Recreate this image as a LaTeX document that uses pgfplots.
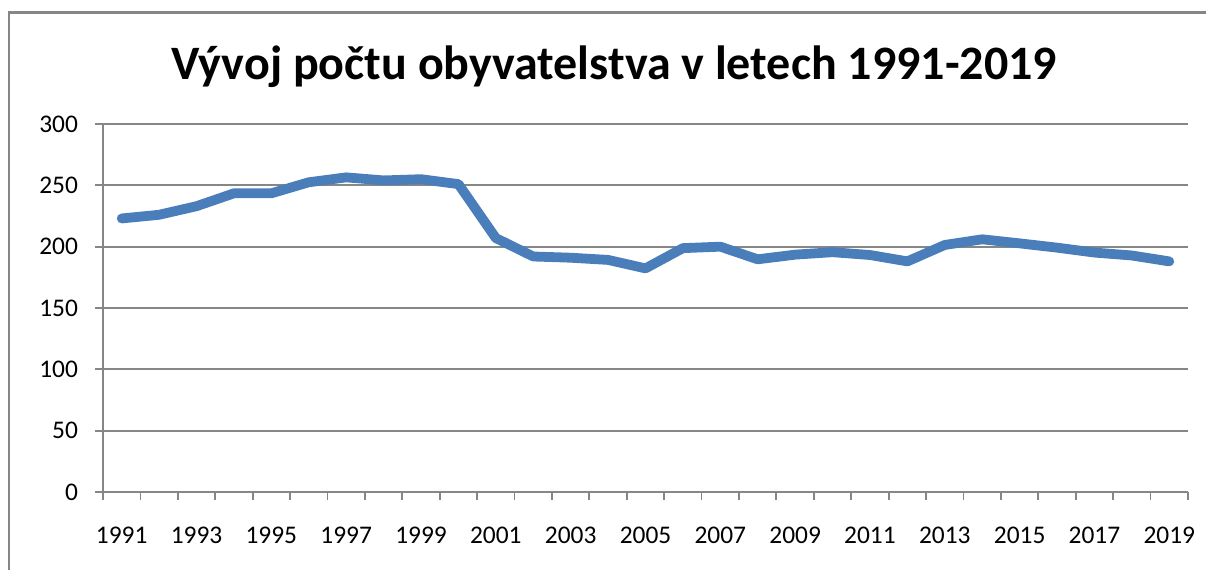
\documentclass[border=0pt]{standalone}
\usepackage{pgfplots}
\pgfplotsset{compat=1.18}
\usepackage{fontspec}
\setmainfont{Carlito}
\definecolor{excelblue}{HTML}{4A7EBB}
\definecolor{gridgray}{HTML}{868686}
\begin{document}
\begin{tikzpicture}
\useasboundingbox (0pt,0pt) rectangle (603pt,284.5pt);
\draw[gridgray,line width=1.3pt] (4.5pt,-20pt) -- (4.5pt,278.25pt) -- (650pt,278.25pt);
\node[font=\fontsize{24}{28}\selectfont\bfseries,anchor=base] at (307pt,244.5pt) {Vývoj počtu obyvatelstva v letech 1991-2019};
\begin{axis}[
  at={(51.5pt,38.5pt)}, anchor=south west,
  scale only axis, width=542.5pt, height=184pt,
  xmin=1990.5, xmax=2019.5, ymin=0, ymax=300,
  axis x line*=bottom, axis y line*=left,
  axis line style={gridgray,line width=0.9pt},
  xtick={1991,1993,...,2019},
  minor xtick={1990.5,1991.5,...,2019.5},
  ytick={0,50,...,300},
  minor ytick={0,50,...,300},
  tick align=outside,
  major tick length=0pt, minor tick length=4pt,
  tick style={gridgray,line width=0.9pt},
  ymajorgrids, major grid style={gridgray,line width=0.9pt},
  xticklabel style={/pgf/number format/1000 sep={}, yshift=-14pt},
  yticklabel style={xshift=-9pt},
  /pgf/number format/assume math mode=true,
  ticklabel style={font=\fontsize{12.7}{15}\selectfont},
  clip=false,
]
\addplot[excelblue, line width=4.9pt, line join=round, line cap=round] coordinates {
(1991,223) (1992,226) (1993,233) (1994,243.5) (1995,243.5) (1996,252.5) (1997,256.5) (1998,254) (1999,255) (2000,251)
(2001,207) (2002,192) (2003,191) (2004,189.2) (2005,182.3) (2006,198.8) (2007,200) (2008,189.7) (2009,193.5) (2010,195.5)
(2011,193.2) (2012,188) (2013,201.4) (2014,206) (2015,202.7) (2016,199.2) (2017,195.2) (2018,192.8) (2019,188)
};
\end{axis}
\end{tikzpicture}
\end{document}
